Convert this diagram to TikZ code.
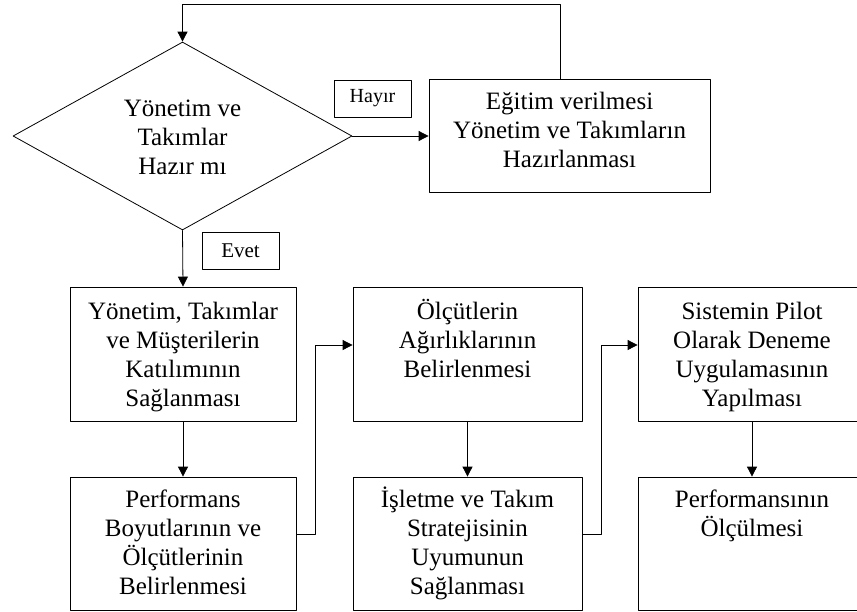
\documentclass[tikz,border=0pt]{standalone}
\usepackage{fontspec}
\setmainfont{Liberation Serif}
\usetikzlibrary{arrows.meta,shapes.geometric}
\newcommand{\boxtext}[4][12pt]{\parbox[c][#3][t]{#2}{\centering\vspace*{#1}\strut #4}}

\begin{document}
\begin{tikzpicture}[x=1pt,y=-1pt,line cap=round,line join=round,thick,
  stepbox/.style={draw,inner sep=0pt,font=\fontsize{25}{29}\selectfont},
  tagbox/.style={draw,inner sep=0pt,minimum width=77pt,minimum height=37pt},
  flow/.style={-{Triangle[length=10pt,width=10pt]}}]
  \useasboundingbox (0,0) rectangle (857,611);

  \node[stepbox,diamond,minimum width=339pt,minimum height=188pt]
    (hazir) at (182.5,136) {\raisebox{-10pt}[0pt][0pt]{\begin{tabular}{@{}c@{}}Yönetim ve\\Takımlar\\Hazır mı\end{tabular}}};
  \node[stepbox,minimum width=281pt] (egitim) at (569.5,136)
    {\boxtext[10pt]{271pt}{113pt}{Eğitim verilmesi\\Yönetim ve Takımların\\Hazırlanması}};
  \node[tagbox,font=\fontsize{20}{24}\selectfont] (hayir) at (372.5,98.5) {Hayır};
  \node[tagbox,font=\fontsize{21}{25}\selectfont] (evet) at (240.5,250.5) {Evet};

  \node[stepbox,minimum width=226pt] (katilim) at (183,354)
    {\boxtext{216pt}{134pt}{Yönetim, Takımlar\\ve Müşterilerin\\Katılımının\\Sağlanması}};
  \node[stepbox,minimum width=229pt] (agirlik) at (467.5,354)
    {\boxtext{219pt}{134pt}{Ölçütlerin\\Ağırlıklarının\\Belirlenmesi}};
  \node[stepbox,minimum width=228pt] (pilot) at (752,354)
    {\boxtext{218pt}{134pt}{Sistemin Pilot\\Olarak Deneme\\Uygulamasının\\Yapılması}};
  \node[stepbox,minimum width=226pt] (boyut) at (183,543.5)
    {\boxtext[10pt]{216pt}{133pt}{Performans\\Boyutlarının ve\\Ölçütlerinin\\Belirlenmesi}};
  \node[stepbox,minimum width=229pt] (uyum) at (467.5,543.5)
    {\boxtext[10pt]{219pt}{133pt}{İşletme ve Takım\\Stratejisinin\\Uyumunun\\Sağlanması}};
  \node[stepbox,minimum width=228pt] (olcum) at (752,543.5)
    {\boxtext[10pt]{218pt}{133pt}{Performansının\\Ölçülmesi}};

  \coordinate (geri) at (560,4);

  \draw[flow] (hazir.east) -- (egitim.west);
  \draw[flow] (egitim.north -| geri) -- (geri) -| (hazir.north);
  \draw[flow] (hazir.south) -- (katilim.north);
  \draw[flow] (katilim.south) -- (boyut.north);
  \draw[flow] ([yshift=9.5pt]boyut.east) -- ++(19,0) |- ([yshift=9pt]agirlik.west);
  \draw[flow] (agirlik.south) -- (uyum.north);
  \draw[flow] ([yshift=9.5pt]uyum.east) -- ++(19,0) |- ([yshift=9pt]pilot.west);
  \draw[flow] (pilot.south) -- (olcum.north);
\end{tikzpicture}
\end{document}
